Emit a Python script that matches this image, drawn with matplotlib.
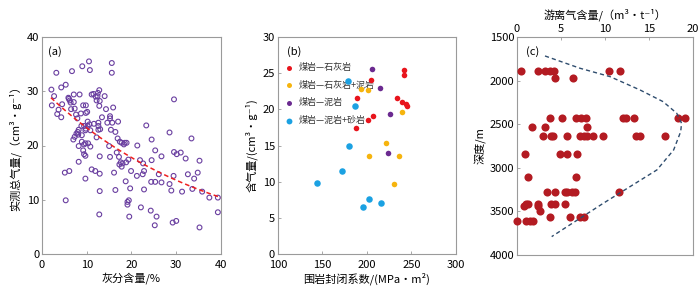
import matplotlib
matplotlib.use("Agg")
import matplotlib.pyplot as plt
import numpy as np

plt.rcParams['font.family'] = ['Noto Sans CJK SC', 'DejaVu Sans']
plt.rcParams['axes.unicode_minus'] = False

# ---- panel (a): ash content vs measured total gas ----
ash = [2.1, 2.7, 2.2, 3.2, 3.7, 3.4, 4.3, 4.5, 4.3, 5.3, 6.7, 5.9, 6.2, 6.4, 6.5,
       7.1, 7.1, 7.3, 7.6, 7.9, 8.4, 9.0, 9.2, 9.8, 9.8, 10.1, 8.7, 8.8, 9.4, 9.8,
       10.2, 10.2, 10.6, 10.8, 9.7, 8.2, 7.7, 8.1, 7.3, 7.0, 8.9, 8.9, 9.4, 8.2, 9.7,
       10.3, 9.2, 9.4, 9.7, 10.8, 8.2, 5.1, 6.1, 9.7, 5.3, 10.5, 10.7, 11.1, 12.0, 12.4,
       12.8, 12.5, 12.2, 12.9, 12.8, 14.0, 14.3, 13.4, 12.6, 12.6, 12.6, 12.2, 15.6, 15.6,
       15.2, 15.2, 14.6, 15.7, 15.9, 16.4, 15.4, 17.0, 16.9, 17.4, 17.8, 18.3, 18.5, 18.9,
       15.0, 15.2, 12.9, 16.7, 17.2, 17.6, 17.3, 17.8, 18.0, 18.8, 19.3, 18.7, 16.1, 11.1,
       11.9, 12.9, 12.9, 16.4, 19.7, 19.9, 21.3, 21.2, 21.9, 22.6, 22.8, 22.5, 22.8, 23.3,
       24.5, 24.5, 25.3, 24.4, 25.3, 26.1, 26.7, 26.7, 28.5, 28.5, 28.9, 29.4, 29.5, 29.5,
       30.1, 31.0, 31.3, 32.1, 32.6, 33.4, 33.6, 34.0, 34.8, 35.2, 35.8, 37.4, 39.3, 19.1,
       19.4, 19.1, 19.5, 22.1, 24.3, 25.2, 25.6, 29.2, 30.0, 35.2, 39.3, 12.8, 6.0, 11.5,
       13.0, 8.0, 11.6]
gas_total = [30.3, 29.1, 27.4, 33.4, 26.6, 25.8, 30.7, 27.6, 25.2, 31.2, 33.7, 28.8, 28.3, 27.9, 26.7,
             29.4, 28.0, 26.8, 25.7, 25.0, 29.4, 34.6, 27.4, 27.4, 26.0, 26.2, 25.9, 23.6, 23.6, 23.1,
             23.6, 24.4, 23.9, 22.8, 22.8, 22.9, 22.2, 22.0, 21.6, 21.1, 21.9, 20.7, 20.2, 19.9, 20.4,
             20.4, 19.1, 18.4, 18.1, 19.8, 17.0, 15.0, 15.3, 13.9, 9.9, 35.5, 33.9, 29.4, 29.0, 29.1,
             30.2, 29.7, 28.3, 28.2, 27.3, 29.1, 26.7, 25.2, 24.2, 23.6, 22.9, 21.5, 35.2, 33.4,
             25.4, 25.0, 24.2, 24.2, 27.0, 22.5, 22.9, 24.4, 21.3, 20.7, 20.5, 20.2, 20.5, 20.5,
             19.9, 17.9, 18.0, 18.7, 17.9, 16.9, 16.5, 16.1, 16.7, 16.9, 17.4, 13.4, 15.0, 15.6,
             15.3, 14.8, 11.6, 11.8, 12.1, 15.3, 20.0, 14.4, 17.3, 16.7, 15.3, 14.7, 11.9, 23.7,
             21.1, 17.3, 19.1, 13.3, 13.3, 14.7, 18.0, 13.2, 22.4, 12.9, 11.7, 14.4, 28.5, 18.8,
             18.4, 18.7, 11.5, 17.6, 14.7, 21.3, 12.0, 13.9, 15.0, 17.2, 11.5, 10.4, 10.4, 9.6,
             9.9, 9.1, 6.9, 8.6, 8.0, 5.3, 6.9, 5.8, 6.1, 4.9, 7.7, 7.3, 28.6, 29.5,
             23.0, 22.5, 24.0]
# exponential trend: y = a * exp(-b * x)
fit_a, fit_b = 30.4, 0.0268
fit_range = [2.0, 40.0]

# ---- panel (b): sealing coefficient vs gas content ----
b_labels = ['煤岩—石灰岩', '煤岩—石灰岩+泥岩', '煤岩—泥岩', '煤岩—泥岩+砂岩']
b_colors = ['#e8141c', '#f6b40e', '#6b2a90', '#1ba1e2']
seal_lime = [187.9, 188.6, 201.3, 206.9, 204.7, 233.8, 239.8, 243.6, 244.7, 241.3, 241.3]
gas_lime = [17.35, 21.6, 18.5, 19.05, 24.0, 21.6, 21.0, 20.75, 20.5, 24.7, 25.4]
seal_lime_mud = [193.8, 201.3, 239.8, 221.9, 202.4, 236.4, 230.1]
gas_lime_mud = [22.8, 22.7, 19.65, 15.3, 13.6, 13.6, 9.7]
seal_mud = [205.8, 214.4, 226.4, 224.1]
gas_mud = [25.6, 23.0, 19.4, 13.9]
seal_mud_sand = [178.5, 186.4, 180.0, 172.1, 144.1, 202.4, 196.1, 215.5]
gas_mud_sand = [23.9, 20.4, 14.96, 11.5, 9.8, 7.55, 6.5, 7.1]

# ---- panel (c): free gas vs depth ----
free_gas = [0.4, 2.4, 3.2, 3.7, 4.15, 10.45, 11.7,
            4.26, 6.38,
            3.7, 5.1, 6.68, 7.3, 7.8, 12.1, 12.35, 13.3, 18.3, 19.1,
            1.7, 3.2, 7.9,
            2.9, 3.9, 4.1, 5.7, 7.2, 7.6, 7.9, 8.6, 9.8, 13.5, 14.0, 16.8,
            0.87, 4.9, 5.66, 6.87,
            1.28, 6.7,
            3.36, 4.26, 5.43, 5.7, 6.2, 6.6, 11.55,
            1.0, 1.25, 2.34, 3.85, 4.3, 5.4,
            0.83, 2.4,
            2.64,
            3.8, 6.0, 7.2, 7.6,
            0.0, 1.06, 1.43, 1.8]
depth = [1890] * 7 + [1970] * 2 + [2435] * 10 + [2530] * 3 + [2640] * 12 + \
        [2845] * 4 + [3110] * 2 + [3275] * 7 + [3415] * 6 + [3440] * 2 + \
        [3496] + [3560] * 4 + [3607] * 4
curve_gas = [3.18, 7.16, 10.57, 13.98, 16.6, 18.15, 18.7, 18.6, 17.8, 15.9, 12.84, 9.8, 7.16, 3.94]
curve_depth = [1718, 1859, 1955, 2108, 2242, 2375, 2490, 2586, 2796, 3025, 3217, 3408, 3580, 3790]

fig = plt.figure(figsize=(7.0, 2.91), dpi=100)
ax_a = fig.add_axes([0.060, 0.127, 0.2557, 0.746])
ax_b = fig.add_axes([0.397, 0.127, 0.2543, 0.746])
ax_c = fig.add_axes([0.7386, 0.124, 0.2514, 0.749])

spine_col = '#9a9a9a'
tick_fs = 8
lab_fs = 8


def style(ax):
    for s in ax.spines.values():
        s.set_color(spine_col)
        s.set_linewidth(0.8)
    ax.tick_params(direction='in', length=2.5, width=0.6, color=spine_col,
                   labelsize=tick_fs)
    ax.tick_params(axis='x', pad=4)
    ax.tick_params(axis='y', pad=2)


# (a)
style(ax_a)
ax_a.scatter(ash, gas_total, s=12, facecolors='none', edgecolors='#6a3fa0',
             linewidths=0.8, zorder=3)
xf = np.linspace(fit_range[0], fit_range[1], 100)
ax_a.plot(xf, fit_a * np.exp(-fit_b * xf), color='#ee2020', ls=(0, (3, 2)),
          lw=1.1, zorder=4)
ax_a.set_xlim(0, 40)
ax_a.set_ylim(0, 40)
ax_a.set_xticks([0, 10, 20, 30, 40])
ax_a.set_yticks([0, 10, 20, 30, 40])
ax_a.set_xlabel('灰分含量/%', fontsize=lab_fs, labelpad=2)
ax_a.set_ylabel('实测总气量/（cm³・g⁻¹）', fontsize=lab_fs, labelpad=4)
ax_a.text(0.035, 0.96, '(a)', transform=ax_a.transAxes, fontsize=8, va='top')

# (b)
style(ax_b)
groups = [(seal_lime, gas_lime), (seal_lime_mud, gas_lime_mud),
          (seal_mud, gas_mud), (seal_mud_sand, gas_mud_sand)]
sizes = [16, 16, 16, 22]
for (xs, ys), lab, col, sz in zip(groups, b_labels, b_colors, sizes):
    ax_b.scatter(xs, ys, s=sz, color=col, label=lab, zorder=3, linewidths=0)
ax_b.set_xlim(100, 300)
ax_b.set_ylim(0, 30)
ax_b.set_xticks([100, 150, 200, 250, 300])
ax_b.set_yticks([0, 5, 10, 15, 20, 25, 30])
ax_b.set_xlabel('围岩封闭系数/(MPa・m²)', fontsize=lab_fs, labelpad=2)
ax_b.set_ylabel('含气量/(cm³・g⁻¹)', fontsize=lab_fs, labelpad=4)
ax_b.text(0.05, 0.96, '(b)', transform=ax_b.transAxes, fontsize=8, va='top')
leg = ax_b.legend(loc='upper left', bbox_to_anchor=(-0.02, 0.905), frameon=False,
                  fontsize=6.5, handletextpad=0.05, labelspacing=0.95,
                  borderaxespad=0.2, markerscale=0.9, labelcolor='#333333')
leg.set_zorder(1)

# (c)
style(ax_c)
ax_c.scatter(free_gas, depth, s=34, color='#b31b22', zorder=3, linewidths=0,
             clip_on=False)
ax_c.plot(curve_gas, curve_depth, color='#2f4d6e', ls=(0, (3, 2.2)), lw=1.0,
          zorder=4)
ax_c.set_xlim(0, 20)
ax_c.set_ylim(4000, 1500)
ax_c.set_xticks([0, 5, 10, 15, 20])
ax_c.set_yticks([1500, 2000, 2500, 3000, 3500, 4000])
ax_c.xaxis.tick_top()
ax_c.xaxis.set_label_position('top')
ax_c.tick_params(axis='x', top=True, bottom=False, pad=2)
ax_c.set_xlabel('游离气含量/（m³・t⁻¹）', fontsize=lab_fs, labelpad=4)
ax_c.set_ylabel('深度/m', fontsize=lab_fs, labelpad=3)
ax_c.text(0.05, 0.96, '(c)', transform=ax_c.transAxes, fontsize=8, va='top')

fig.savefig('out.png', dpi=100)
